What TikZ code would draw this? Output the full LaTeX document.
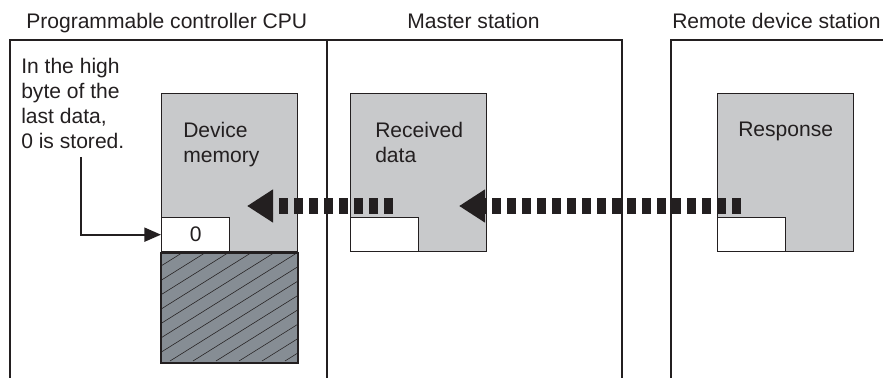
\documentclass[tikz,border=0pt]{standalone}
\usepackage{fontspec}
\setmainfont{Liberation Sans}
\usetikzlibrary{arrows.meta,positioning}
\definecolor{ink}{HTML}{231F20}
\definecolor{boxgray}{HTML}{C8C9CB}
\definecolor{hatchgray}{HTML}{868D94}

\begin{document}
\begin{tikzpicture}[x=0.75pt,y=-0.75pt,
  every node/.style={font=\fontsize{15.8}{18.75}\selectfont,text=ink},
  frame/.style={draw=ink,line width=1.5pt},
  membox/.style={draw=ink,fill=boxgray,line width=1pt,inner sep=0pt,minimum width=102pt,minimum height=118.5pt,anchor=north west},
  cell/.style={draw=ink,fill=white,line width=1pt,inner sep=0pt,minimum width=51pt,minimum height=25.5pt,anchor=south west},
  flow/.style={ink,line width=12pt,dash pattern=on 6.75pt off 4.5pt,-{Triangle[length=19.5pt,width=23.5pt]}},
  lbl/.style={anchor=base west,inner sep=0pt}]
  \useasboundingbox (0,0) rectangle (883,378);
  % station frames
  \draw[frame] (10,378) -- (10,40) -- (622,40) -- (622,378);
  \draw[frame] (327,40) -- (327,378);
  \draw[frame] (671,378) -- (671,40) -- (883,40);
  \node[lbl] (cpu) at (26,29) {Programmable controller CPU};
  \node[lbl] (mst) at (407,29) {Master station};
  \node[lbl] (rds) at (672,29) {Remote device station};
  % memory blocks
  \node[membox] (dev) at (161,93) {};
  \node[membox] (rcv) at (350,93) {};
  \node[membox] (rsp) at (717,93) {};
  \node[membox,fill=hatchgray,minimum height=82.5pt] (used) at (dev.south west) {};
  \begin{scope}
    \clip (used.south west) rectangle (used.north east);
    \foreach \i in {-1,...,12}
      \draw[ink,line width=0.4pt] (9+23*\i,361) -- ++(200,-125);
  \end{scope}
  \draw[ink,line width=1pt] (used.south west) rectangle (used.north east);
  \node[cell] (zero) at (dev.south west) {0};
  \node[cell] (rcell) at (rcv.south west) {};
  \node[cell] (scell) at (rsp.south west) {};
  \node[lbl,align=left] (devt) at (183,162) {Device\\memory};
  \node[lbl,align=left] (rcvt) at (375,162) {Received\\data};
  \node[lbl] (rspt) at (738,137) {Response};
  % note on the high byte
  \node[lbl,align=left] (note) at (21,149) {In the high\\byte of the\\last data,\\0 is stored.};
  \coordinate (nt) at (81,157);
  \draw[ink,line width=1.5pt,-{Triangle[length=12.5pt,width=10.5pt]}] (nt) |- (zero.west);
  % data flow
  \coordinate (f1s) at (393,206);
  \coordinate (f1e) at (247,206);
  \coordinate (f2s) at (741,206);
  \coordinate (f2e) at (459,206);
  \draw[flow] (f1s) -- (f1e);
  \draw[flow] (f2s) -- (f2e);
\end{tikzpicture}
\end{document}
